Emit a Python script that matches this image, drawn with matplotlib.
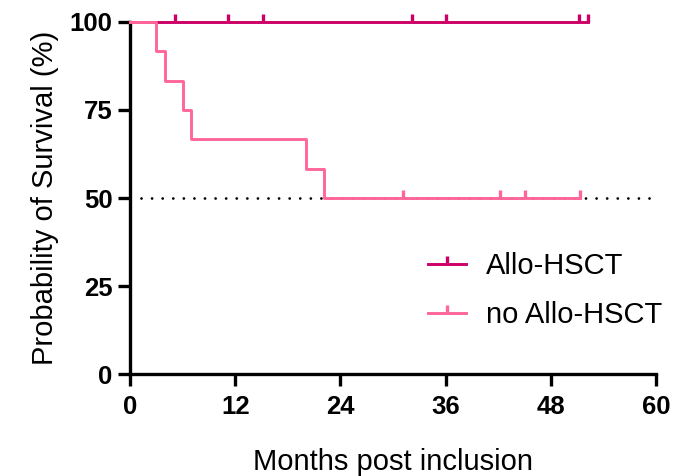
import matplotlib.pyplot as plt

plt.rcParams['font.family'] = ['Liberation Sans', 'DejaVu Sans']

# Kaplan-Meier data (months, survival %)
allo_times = [0, 52.2]
allo_surv = [100, 100]
allo_censor = [5.1, 11.2, 15.2, 32.2, 36.1, 51.2, 52.2]

no_allo_times = [0, 3.0, 4.0, 6.1, 7.0, 20.1, 22.1, 51.3]
no_allo_surv = [100, 91.7, 83.3, 75.0, 66.7, 58.3, 50.0, 50.0]
no_allo_censor = [31.1, 42.2, 45.1, 51.3]

median_level = 50
xticks = [0, 12, 24, 36, 48, 60]
yticks = [0, 25, 50, 75, 100]

c_allo = '#CC0066'
c_no = '#FF6699'

fig = plt.figure(figsize=(6.77, 4.76), dpi=100)
ax = fig.add_axes([0.192, 0.214, 0.777, 0.740])

# median reference line
ax.plot([1.3, 59.4], [median_level, median_level], color='black', lw=2.0,
        linestyle=(0, (0.01, 3.8)), dash_capstyle='round', zorder=1)

def km(times, surv, censor, color, label):
    ax.step(times, surv, where='post', color=color, lw=2.1, zorder=3, clip_on=False)
    cy = []
    for c in censor:
        s = surv[0]
        for t, v in zip(times, surv):
            if t <= c:
                s = v
        cy.append(s)
    ax.plot(censor, cy, linestyle='none', marker=2, markersize=5.5,
            markeredgewidth=2.4, color=color, zorder=4, clip_on=False)
    ax.plot([], [], color=color, lw=2.1, marker=2, markersize=5.5,
            markeredgewidth=2.4, label=label)

km(allo_times, allo_surv, allo_censor, c_allo, 'Allo-HSCT')
km(no_allo_times, no_allo_surv, no_allo_censor, c_no, 'no Allo-HSCT')

ax.set_xlim(0, 60)
ax.set_ylim(0, 100)
ax.set_xticks(xticks)
ax.set_yticks(yticks)
ax.spines['top'].set_visible(False)
ax.spines['right'].set_visible(False)
for s in ['left', 'bottom']:
    ax.spines[s].set_linewidth(2.4)
ax.tick_params(width=2.4, length=8.5, labelsize=18.5)
ax.tick_params(axis='x', pad=6.5)
ax.tick_params(axis='y', pad=4)
for lbl in ax.get_xticklabels() + ax.get_yticklabels():
    lbl.set_fontweight('bold')

ax.set_xlabel('Months post inclusion', fontsize=21, labelpad=21)
ax.set_ylabel('Probability of Survival (%)', fontsize=21, labelpad=8)

leg = fig.legend(loc='upper left', bbox_to_anchor=(428 / 677, 1 - 252 / 476),
                 frameon=False, fontsize=21, borderpad=0, borderaxespad=0,
                 handlelength=1.3, handletextpad=0.7, labelspacing=0.72)

fig.savefig('out.png', dpi=100)
